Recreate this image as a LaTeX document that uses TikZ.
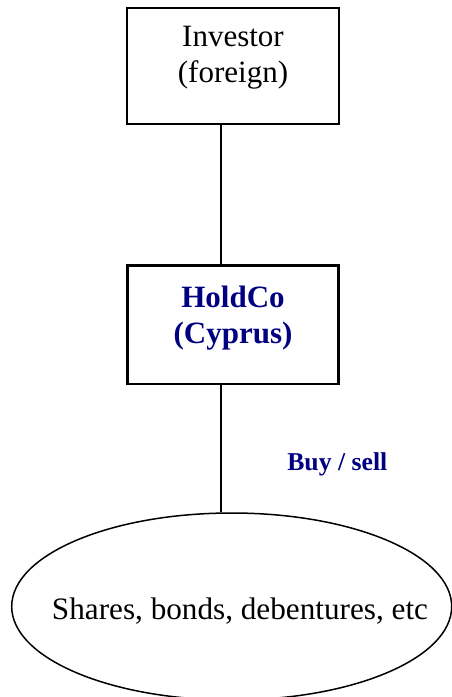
\documentclass[tikz,border=0pt]{standalone}
\usepackage{fontspec}
\setmainfont{Liberation Serif}
\usetikzlibrary{shapes.geometric}
\definecolor{navyblue}{RGB}{0,0,128}
\begin{document}
\begin{tikzpicture}[x=1pt,y=-1pt,
  boxa/.style={draw=black,line width=1.8pt,minimum width=211.4pt,minimum height=116pt,inner sep=0pt},
  boxb/.style={draw=black,line width=2.7pt,minimum width=211.4pt,minimum height=118.3pt,inner sep=0pt},
  bigtext/.style={font=\fontsize{31}{36}\selectfont,align=center,inner sep=0pt},
  bluetext/.style={font=\fontsize{31}{36}\selectfont\bfseries,text=navyblue,align=center,inner sep=0pt},
  smallblue/.style={font=\fontsize{25.7}{30}\selectfont\bfseries,text=navyblue,inner sep=0pt},
  conn/.style={draw=black,line width=1.3pt}]
\useasboundingbox (0,0) rectangle (452,697);
\coordinate (lx) at (221,0);
\node[boxa] (inv) at (233,66.3) {};
\node[bigtext] (invt) at (233,58) {Investor\\(foreign)};
\node[boxb] (hold) at (233,324.9) {};
\node[bluetext] (holdt) at (233,318) {HoldCo\\(Cyprus)};
\node[draw=black,line width=1.5pt,ellipse,minimum width=440pt,minimum height=187pt,inner sep=0pt] (ell) at (231.7,606.5) {};
\node[font=\fontsize{31.2}{36}\selectfont,inner sep=0pt,anchor=base] (ellt) at (240,619.3) {Shares, bonds, debentures, etc};
\node[smallblue,anchor=base] (buy) at (337.3,470.7) {Buy / sell};
\draw[conn] (inv.south -| lx) -- (hold.north -| lx);
\draw[conn] (hold.south -| lx) -- (ell.north -| lx);
\end{tikzpicture}
\end{document}
